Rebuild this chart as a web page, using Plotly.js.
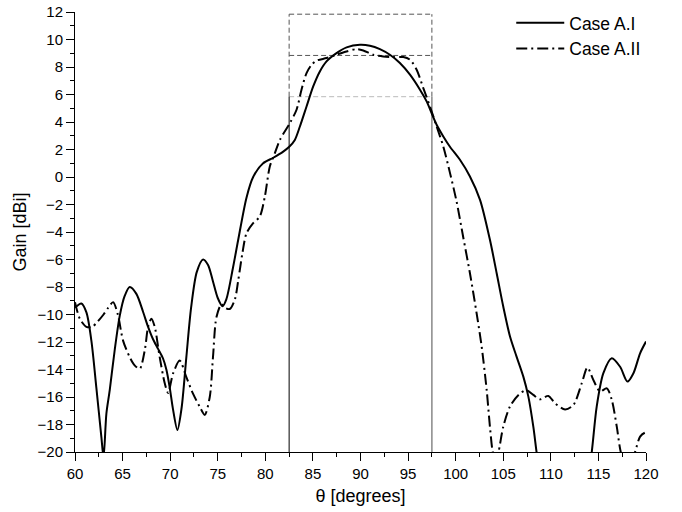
<!DOCTYPE html>
<html>
<head>
<meta charset="utf-8">
<script src="https://cdn.plot.ly/plotly-3.0.1.min.js"></script>
<style>html,body{margin:0;padding:0;background:#fff;}#chart{width:682px;height:512px;}</style>
</head>
<body>
<div id="chart"></div>
<script>
// Case A.I (solid)
const thetaA1 = [60, 60.67, 61.2, 61.72, 62.24, 62.77, 63.0, 63.3, 63.65, 64.17, 64.7, 65.22, 65.75, 66.45, 67.15, 67.68, 68.2, 68.73, 69.25, 69.6, 69.95, 70.3, 70.76, 71.2, 71.7, 72.2, 72.8, 73.46, 73.98, 74.5, 75.0, 75.5, 75.9, 76.6, 77.14, 78.02, 78.72, 79.77, 80.83, 81.88, 82.51, 83.1, 83.63, 84.33, 85.03, 85.73, 86.43, 87.48, 88.54, 89.94, 90.99, 92.04, 93.09, 94.14, 95.2, 96.25, 96.95, 97.47, 98.0, 98.7, 99.4, 100.45, 101.5, 102.56, 103.6, 104.31, 105.0, 105.71, 106.4, 107.11, 107.64, 108.16, 108.5, 109.3, 110.5, 112, 113.5, 114.3, 114.82, 115.52, 116.4, 117.28, 118.05, 118.68, 119.38, 120];
const gainA1 = [-9.5, -9.2, -9.85, -11.9, -15.3, -18.9, -20.4, -17.2, -15.5, -12.6, -10.1, -8.65, -8.0, -8.5, -9.8, -10.9, -11.8, -12.5, -13.2, -14.0, -15.3, -16.9, -18.4, -16.8, -13.1, -9.5, -6.9, -6.0, -6.4, -7.6, -8.8, -9.4, -8.9, -6.6, -4.6, -1.5, 0.0, 1.0, 1.4, 1.85, 2.2, 2.7, 3.67, 5.13, 6.59, 7.68, 8.41, 9.01, 9.43, 9.62, 9.55, 9.3, 8.89, 8.29, 7.44, 6.35, 5.5, 4.65, 3.8, 2.95, 2.2, 1.25, 0.04, -1.66, -4.57, -7.0, -9.42, -11.6, -13.06, -14.52, -15.97, -18.16, -20, -24, -27, -28, -24, -20, -16.7, -14.27, -13.18, -13.8, -14.88, -14.27, -12.82, -11.97];

// Case A.II (dash-dot)
const thetaA2 = [60, 60.5, 61.2, 61.8, 62.4, 63.0, 63.5, 64.0, 64.5, 65.05, 65.75, 66.27, 66.8, 67.33, 67.68, 68.03, 68.38, 68.9, 69.43, 69.78, 70.3, 71.0, 71.7, 72.4, 73.1, 73.63, 74.16, 74.5, 74.86, 75.39, 75.74, 76.26, 76.8, 77.14, 77.6, 78.02, 78.72, 79.42, 79.95, 80.47, 81.0, 81.53, 82.58, 83.28, 83.8, 84.33, 84.86, 85.38, 86.43, 87.48, 88.54, 89.59, 90.29, 91.34, 92.39, 93.44, 94.5, 95.2, 95.9, 96.6, 97.3, 98.0, 98.7, 99.4, 100.1, 100.8, 101.5, 102.2, 102.73, 103.26, 103.6, 103.9, 104.2, 104.5, 105.0, 105.7, 106.6, 107.4, 108.16, 108.87, 109.74, 110.44, 111.5, 112.37, 113.25, 113.84, 114.47, 115.17, 115.88, 116.4, 116.93, 117.35, 118.1, 118.85, 119.38, 119.9, 120];
const gainA2 = [-9.1, -10.3, -10.9, -10.9, -10.5, -10.0, -9.5, -9.1, -10.0, -11.9, -13.1, -13.7, -13.95, -12.6, -10.9, -10.3, -10.9, -13.1, -15.0, -15.7, -14.3, -13.35, -14.55, -15.76, -16.7, -17.3, -16.0, -13.1, -10.2, -9.25, -9.5, -9.6, -8.9, -7.57, -5.5, -4.09, -3.36, -2.87, -1.42, 0.76, 1.73, 2.7, 3.92, 4.89, 6.35, 7.56, 8.16, 8.46, 8.65, 8.89, 9.13, 9.3, 9.2, 8.89, 8.77, 8.72, 8.72, 8.53, 7.8, 6.47, 5.13, 3.68, 2.22, 0.3, -1.8, -4.4, -7.0, -9.9, -12.33, -15.5, -18.16, -20, -20.6, -20, -18.16, -16.7, -15.85, -15.5, -15.85, -16.17, -15.92, -16.46, -16.9, -16.58, -15.0, -13.86, -14.76, -15.6, -15.37, -16.2, -18.16, -20, -21.5, -20, -18.88, -18.59, -18.6];

// Beam reference markers
const beamEdges = [82.5, 97.5];
const levelTop = 11.84, levelMid = 8.84, levelLow = 5.84;
const xRange = [60, 120], yRange = [-20, 12];

const font = 'Arial, "Liberation Sans", sans-serif';

const traces = [
  {x: thetaA1, y: gainA1, name: 'Case A.I', type: 'scatter', mode: 'lines',
   line: {color: '#000', width: 2, shape: 'spline', smoothing: 0.8}},
  {x: thetaA2, y: gainA2, name: 'Case A.II', type: 'scatter', mode: 'lines',
   line: {color: '#000', width: 2, dash: '11px,4px,2px,4px', shape: 'spline', smoothing: 0.8}}
];

const dashGray = {color: '#555', width: 1, dash: '5px,3px'};
const shapes = [
  {type: 'line', xref: 'x', yref: 'y', x0: beamEdges[0], x1: beamEdges[1], y0: levelTop, y1: levelTop, line: dashGray, layer: 'below'},
  {type: 'line', xref: 'x', yref: 'y', x0: beamEdges[0], x1: beamEdges[1], y0: levelMid, y1: levelMid, line: dashGray, layer: 'below'},
  {type: 'line', xref: 'x', yref: 'y', x0: beamEdges[0], x1: beamEdges[1], y0: levelLow, y1: levelLow, line: {color: '#bbb', width: 1, dash: '5px,3px'}, layer: 'below'},
  {type: 'line', xref: 'x', yref: 'y', x0: beamEdges[0], x1: beamEdges[0], y0: levelLow, y1: levelTop, line: dashGray, layer: 'below'},
  {type: 'line', xref: 'x', yref: 'y', x0: beamEdges[1], x1: beamEdges[1], y0: levelLow, y1: levelTop, line: dashGray, layer: 'below'},
  {type: 'line', xref: 'x', yref: 'y', x0: beamEdges[0], x1: beamEdges[0], y0: yRange[0], y1: levelLow, line: {color: '#000', width: 1}, layer: 'below'},
  {type: 'line', xref: 'x', yref: 'y', x0: beamEdges[1], x1: beamEdges[1], y0: yRange[0], y1: levelLow, line: {color: '#888', width: 1.5}, layer: 'below'}
];

const layout = {
  width: 682, height: 512,
  margin: {l: 75, r: 36, t: 12, b: 60, autoexpand: false},
  paper_bgcolor: '#fff', plot_bgcolor: '#fff',
  font: {family: font, size: 15, color: '#000'},
  showlegend: true,
  legend: {x: 0.764, y: 1.016, xanchor: 'left', yanchor: 'top', bgcolor: 'rgba(0,0,0,0)',
           font: {family: font, size: 17.5, color: '#000'}, tracegroupgap: 0, itemwidth: 48},
  xaxis: {range: xRange, tick0: 60, dtick: 5, ticks: 'outside', ticklen: 8, tickwidth: 1,
          tickcolor: '#000', showline: true, linecolor: '#000', linewidth: 1, showgrid: false, zeroline: false,
          minor: {dtick: 2.5, ticks: 'outside', ticklen: 4, tickcolor: '#000', showgrid: false},
          tickfont: {family: font, size: 15},
          title: {text: 'θ [degrees]', font: {family: font, size: 18}, standoff: 8}},
  yaxis: {range: yRange, tick0: -20, dtick: 2, ticks: 'outside', ticklen: 8, tickwidth: 1,
          tickcolor: '#000', showline: true, linecolor: '#000', linewidth: 1, showgrid: false, zeroline: false,
          minor: {dtick: 1, ticks: 'outside', ticklen: 4, tickcolor: '#000', showgrid: false},
          tickfont: {family: font, size: 15},
          title: {text: 'Gain [dBi]', font: {family: font, size: 18}, standoff: 6}},
  shapes: shapes
};

Plotly.newPlot('chart', traces, layout, {displayModeBar: false, staticPlot: true});
</script>
</body>
</html>
